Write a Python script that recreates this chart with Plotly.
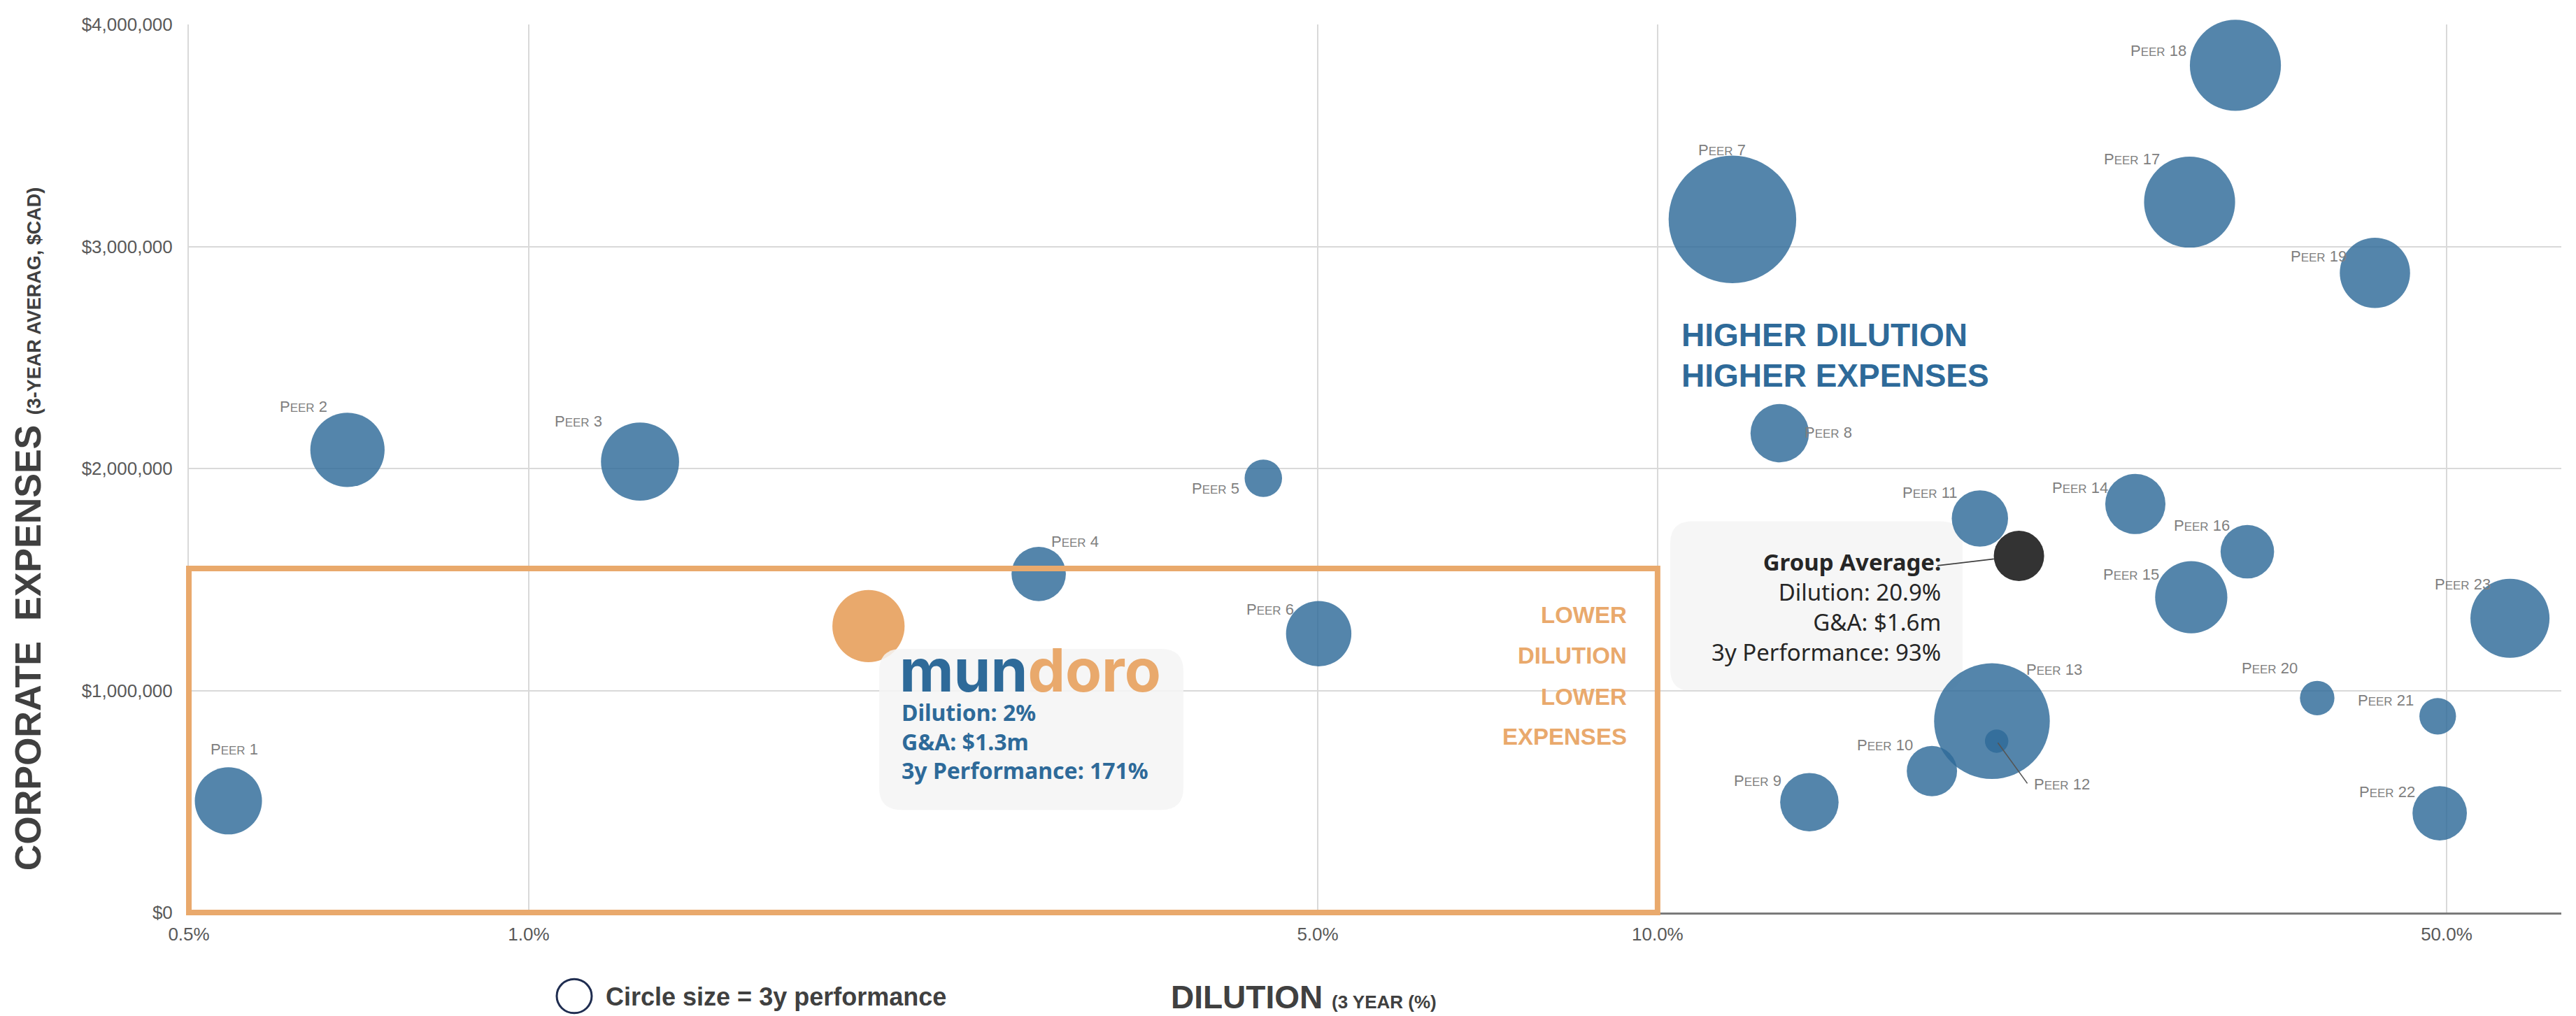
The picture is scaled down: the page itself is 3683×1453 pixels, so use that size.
import math
import plotly.graph_objects as go

# ---------------- data ----------------
PEERS = [f"Peer {i}" for i in range(1, 24)]
DILUTION = [0.542, 0.691, 1.255, 2.83, 4.475, 5.01, 11.65, 12.83, 13.63, 17.5, 19.3, 19.97,
            19.78, 26.5, 29.7, 33.3, 29.6, 32.5, 43.2, 38.4, 49.1, 49.3, 56.9]
EXPENSES = [503000, 2084000, 2031000, 1525000, 1956000, 1256000, 3122000, 2159000, 497000,
            637000, 1775000, 772000, 862000, 1840000, 1420000, 1625000, 3200000, 3816000,
            2881000, 966000, 884000, 447000, 1325000]
PERFORMANCE = [148, 181, 200, 97, 46, 140, 534, 112, 112, 83, 104, 18, 439, 119, 171, 94,
               272, 272, 162, 39, 44, 97, 205]

MUNDORO_DILUTION = 2.0
MUNDORO_EXPENSES = 1290000
MUNDORO_PERF = 171

AVG_DILUTION = 20.9
AVG_EXPENSES = 1606000
AVG_PERF = 93

BOX_DILUTION_MAX = 10.0
BOX_EXPENSES_MAX = 1550000

X_TICKS = [0.5, 1, 5, 10, 50]
X_TICKTEXT = ["0.5%", "1.0%", "5.0%", "10.0%", "50.0%"]

# ---------------- layout geometry / styles ----------------
PAGE_OFF = 8                      # browser default body margin
W, H = 3683 - PAGE_OFF, 1453 - PAGE_OFF
ML, MR, MT, MB = 270 - PAGE_OFF, 21, 25 - PAGE_OFF, 148
PW, PH = W - ML - MR, H - MT - MB
DECADE_PX = 1614
XR = [math.log10(0.5), math.log10(0.5) + PW / DECADE_PX]
YR = [0, 4000000]

BLUE = "#2E6A99"
ORANGE = "#E9A96C"
GRID = "#D9D9D9"
LABEL_GRAY = "#7F7F7F"
SANS = "Liberation Sans, Arial, sans-serif"
BOX_FONT = "Noto Sans, Roboto, sans-serif"

SIZEREF = 171 / 73 ** 2  # area mode: diameter = sqrt(perf / sizeref)

# label offsets (pixels, dx right, dy down) relative to bubble centres
LABEL_OFFSETS = [(8, -74), (-63, -62), (-88, -58), (52, -46), (-68, 15), (-69, -35),
                 (-15, -99), (69, -1), (-74, -31), (-67, -37), (-71, -37), (51, 62),
                 (89, -74), (-79, -23), (-86, -33), (-65, -38), (-83, -62), (-110, -21),
                 (-81, -24), (-68, -43), (-74, -23), (-75, -31), (-68, -49)]


def px_x(px):
    # page pixel -> paper fraction
    return (px - PAGE_OFF - ML) / PW


def px_y(py):
    return (H - MB - (py - PAGE_OFF)) / PH


def data_x(v):
    return (math.log10(v) - XR[0]) / (XR[1] - XR[0])


def data_y(v):
    return (v - YR[0]) / (YR[1] - YR[0])


def rounded_rect(x0, y0, x1, y1, r):
    def P(x, y):
        return f"{px_x(x):.6f},{px_y(y):.6f}"
    return (f"M {P(x0 + r, y0)} L {P(x1 - r, y0)} Q {P(x1, y0)} {P(x1, y0 + r)} "
            f"L {P(x1, y1 - r)} Q {P(x1, y1)} {P(x1 - r, y1)} L {P(x0 + r, y1)} "
            f"Q {P(x0, y1)} {P(x0, y1 - r)} L {P(x0, y0 + r)} Q {P(x0, y0)} {P(x0 + r, y0)} Z")


def peer_label(name):
    num = name.split()[1]
    return f"P<span style='font-size:17px'>EER</span> {num}"


fig = go.Figure()

fig.add_trace(go.Scatter(
    x=DILUTION, y=EXPENSES, mode="markers", text=PEERS,
    marker=dict(size=PERFORMANCE, sizemode="area", sizeref=SIZEREF,
                color=BLUE, opacity=0.82, line=dict(width=0)),
    hovertemplate="%{text}<br>Dilution: %{x:.1f}%<br>G&A: $%{y:,.0f}<extra></extra>",
    cliponaxis=False, showlegend=False))

fig.add_trace(go.Scatter(
    x=[MUNDORO_DILUTION], y=[MUNDORO_EXPENSES], mode="markers",
    marker=dict(size=[MUNDORO_PERF], sizemode="area", sizeref=SIZEREF,
                color=ORANGE, opacity=1, line=dict(width=0)),
    cliponaxis=False, showlegend=False, hoverinfo="skip"))

fig.add_trace(go.Scatter(
    x=[AVG_DILUTION], y=[AVG_EXPENSES], mode="markers",
    marker=dict(size=72, color="#333333", opacity=1, line=dict(width=0)),
    cliponaxis=False, showlegend=False, hoverinfo="skip"))

shapes = []
shapes.append(dict(type="rect", xref="paper", yref="paper",
                   x0=data_x(0.5), x1=data_x(BOX_DILUTION_MAX),
                   y0=data_y(0), y1=data_y(BOX_EXPENSES_MAX),
                   line=dict(color=ORANGE, width=8), fillcolor="rgba(0,0,0,0)", layer="above"))
shapes.append(dict(type="path", xref="paper", yref="paper",
                   path=rounded_rect(1257, 925, 1692, 1157, 32),
                   fillcolor="rgba(245,245,245,0.85)", line=dict(width=0), layer="above"))
shapes.append(dict(type="path", xref="paper", yref="paper",
                   path=rounded_rect(2388, 741, 2806, 986, 32),
                   fillcolor="rgba(245,245,245,0.85)", line=dict(width=0), layer="below"))
shapes.append(dict(type="circle", xref="paper", yref="paper",
                   x0=px_x(796), x1=px_x(846), y0=px_y(1450), y1=px_y(1401),
                   line=dict(color="#1F2D50", width=3), fillcolor="white"))

ann = []
for name, d, e, (dx, dy) in zip(PEERS, DILUTION, EXPENSES, LABEL_OFFSETS):
    ann.append(dict(x=math.log10(d), y=e, xref="x", yref="y", text=peer_label(name),
                    showarrow=False, xshift=dx, yshift=-dy,
                    xanchor="left" if name == "Peer 12" else "center", yanchor="middle",
                    font=dict(family=SANS, size=22, color=LABEL_GRAY)))
i12 = PEERS.index("Peer 12")
ann.append(dict(x=math.log10(DILUTION[i12]), y=EXPENSES[i12], xref="x", yref="y", text="",
                showarrow=True, arrowhead=0, arrowwidth=1.6, arrowcolor="#555555",
                ax=45, ay=62, standoff=3))
ann.append(dict(x=math.log10(AVG_DILUTION), y=AVG_EXPENSES, xref="x", yref="y", text="",
                showarrow=True, arrowhead=0, arrowwidth=1.8, arrowcolor="#404040",
                ax=-118, ay=14, standoff=36))

for txt, cy in [("HIGHER DILUTION", 472), ("HIGHER EXPENSES", 531)]:
    ann.append(dict(x=px_x(2402), y=px_y(cy), xref="paper", yref="paper", text=f"<b>{txt}</b>",
                    showarrow=False, xanchor="left", yanchor="middle",
                    font=dict(family=SANS, size=46, color=BLUE)))
for txt, cy in [("LOWER", 876), ("DILUTION", 935), ("LOWER", 994), ("EXPENSES", 1052)]:
    ann.append(dict(x=px_x(2328), y=px_y(cy), xref="paper", yref="paper", text=f"<b>{txt}</b>",
                    showarrow=False, xanchor="right", yanchor="middle",
                    font=dict(family=SANS, size=33, color=ORANGE)))

ann.append(dict(x=px_x(1284), y=px_y(956), xref="paper", yref="paper",
                text=f"<b><span style='color:{BLUE}'>mun</span><span style='color:{ORANGE}'>doro</span></b>",
                showarrow=False, xanchor="left", yanchor="middle",
                font=dict(family="Inter, Noto Sans, sans-serif", size=85, color=BLUE)))
ann.append(dict(x=px_x(1287), y=px_y(1058), xref="paper", yref="paper",
                text=(f"<b>Dilution: {MUNDORO_DILUTION:.0f}%<br>G&A: ${MUNDORO_EXPENSES/1e6:.1f}m"
                      f"<br>3y Performance: {MUNDORO_PERF}%</b>"),
                showarrow=False, xanchor="left", yanchor="middle", align="left",
                font=dict(family=BOX_FONT, size=32, color=BLUE)))
ann.append(dict(x=px_x(2777), y=px_y(865), xref="paper", yref="paper",
                text=(f"<b>Group Average:</b><br>Dilution: {AVG_DILUTION}%<br>"
                      f"G&A: ${AVG_EXPENSES/1e6:.1f}m<br>3y Performance: {AVG_PERF}%"),
                showarrow=False, xanchor="right", yanchor="middle", align="right",
                font=dict(family=BOX_FONT, size=33, color="#262626")))

ann.append(dict(x=px_x(40), y=px_y(752), xref="paper", yref="paper", textangle=-90,
                text="<b>CORPORATE  EXPENSES</b> <b><span style='font-size:27px'>(3-YEAR AVERAG, $CAD)</span></b>",
                showarrow=False, xanchor="center", yanchor="middle",
                font=dict(family=SANS, size=52, color="#404040")))
ann.append(dict(x=px_x(1672), y=px_y(1427), xref="paper", yref="paper",
                text="<b>DILUTION</b> <b><span style='font-size:26px'>(3 YEAR (%)</span></b>",
                showarrow=False, xanchor="left", yanchor="middle",
                font=dict(family=SANS, size=46, color="#404040")))
ann.append(dict(x=px_x(864), y=px_y(1426), xref="paper", yref="paper",
                text="<b>Circle size = 3y performance</b>",
                showarrow=False, xanchor="left", yanchor="middle",
                font=dict(family=SANS, size=36, color="#404040")))

fig.update_layout(
    width=W, height=H,
    margin=dict(l=ML, r=MR, t=MT, b=MB, pad=0),
    paper_bgcolor="white", plot_bgcolor="rgba(0,0,0,0)",
    shapes=shapes, annotations=ann,
    xaxis=dict(type="log", range=XR, tickvals=X_TICKS, ticktext=X_TICKTEXT,
               showgrid=True, gridcolor=GRID, gridwidth=2,
               showline=True, linecolor="#7A7A7A", linewidth=3,
               zeroline=False, ticks="", ticklabelstandoff=6,
               tickfont=dict(family=SANS, size=26, color="#595959")),
    yaxis=dict(range=YR, dtick=1000000, tickformat=",.0f", tickprefix="$",
               showgrid=True, gridcolor=GRID, gridwidth=2,
               showline=True, linecolor=GRID, linewidth=2,
               zeroline=False, ticks="", ticklabelstandoff=16,
               tickfont=dict(family=SANS, size=26, color="#595959")),
)

fig.write_html("out.html")
